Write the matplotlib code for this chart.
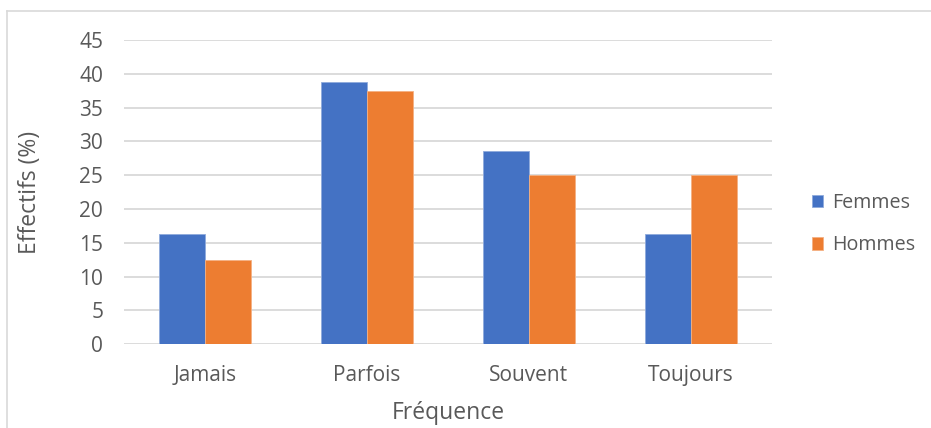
import matplotlib.pyplot as plt
import numpy as np
from matplotlib.lines import Line2D

# frequency survey, share of respondents per answer
categories = ['Jamais', 'Parfois', 'Souvent', 'Toujours']
femmes = [16.3, 38.8, 28.6, 16.3]
hommes = [12.5, 37.5, 25.0, 25.0]

blue = '#4472C4'
orange = '#ED7D31'
txt = '#595959'

plt.rcParams['font.family'] = ['Open Sans', 'DejaVu Sans']

fig = plt.figure(figsize=(9.31, 4.28), dpi=100)
ax = fig.add_axes([0.1332, 0.1956, 0.6958, 0.7109])

x = np.arange(len(categories))
w = 0.284
ax.bar(x - w / 2, femmes, w, color=blue, label='Femmes',
       edgecolor='#8faadc', linewidth=0.6, zorder=3)
ax.bar(x + w / 2, hommes, w, color=orange, label='Hommes',
       edgecolor='#f4b183', linewidth=0.6, zorder=3)

ax.set_xlim(-0.5, len(categories) - 0.5)
ax.set_ylim(0, 45)
ax.set_yticks(np.arange(0, 46, 5))
ax.set_xticks(x)
ax.set_xticklabels(categories)
ax.yaxis.grid(True, color='#d9d9d9', linewidth=1.3, zorder=0)
ax.set_axisbelow(True)
for s in ax.spines.values():
    s.set_visible(False)
ax.tick_params(axis='both', length=0, labelsize=15, colors=txt)
ax.tick_params(axis='y', pad=15)
ax.tick_params(axis='x', pad=15)

ax.set_ylabel('Effectifs (%)', fontsize=16.5, color=txt)
ax.set_xlabel('Fréquence', fontsize=16.5, color=txt)
ax.yaxis.set_label_coords(-0.145, 0.5)
ax.yaxis.label.set_va('center')
ax.xaxis.set_label_coords(0.501, -0.227)
ax.xaxis.label.set_va('center')

ax.legend(loc='center left', bbox_to_anchor=(1.034, 0.395), frameon=False,
          fontsize=14.2, labelcolor=txt, handlelength=0.6, handleheight=0.6,
          handletextpad=0.45, labelspacing=1.15)

# chart area border (top and left edges visible)
fig.add_artist(Line2D([7 / 931, 7 / 931], [0, 1 - 11 / 428],
                      transform=fig.transFigure, color='#d9d9d9', linewidth=1.2))
fig.add_artist(Line2D([7 / 931, 1], [1 - 11 / 428, 1 - 11 / 428],
                      transform=fig.transFigure, color='#d9d9d9', linewidth=1.2))

fig.savefig('out.png', dpi=100)
